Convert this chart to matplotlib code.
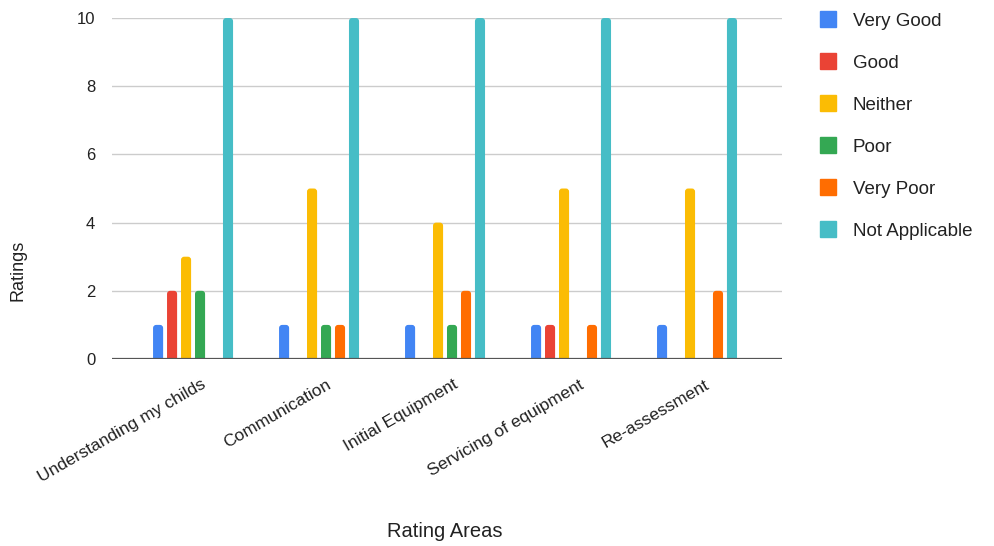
import numpy as np
import matplotlib.pyplot as plt
from matplotlib.patches import FancyBboxPatch
from matplotlib.lines import Line2D

plt.rcParams['font.family'] = ['Liberation Sans', 'DejaVu Sans']

# Ratings per area
areas = ["Understanding my childs", "Communication", "Initial Equipment",
         "Servicing of equipment", "Re-assessment"]
series = ["Very Good", "Good", "Neither", "Poor", "Very Poor", "Not Applicable"]
very_good = [1, 1, 1, 1, 1]
good = [2, 0, 0, 1, 0]
neither = [3, 5, 4, 5, 5]
poor = [2, 1, 1, 0, 0]
very_poor = [0, 1, 2, 1, 2]
not_applicable = [10, 10, 10, 10, 10]
values = [very_good, good, neither, poor, very_poor, not_applicable]
colors = ["#4285F4", "#EA4335", "#FBBC04", "#34A853", "#FF6D01", "#46BDC6"]

fig = plt.figure(figsize=(9.95, 5.46), dpi=100)
ax = fig.add_axes([0.1126, 0.3425, 0.6734, 0.6245])
ax.set_xlim(-0.643, 4.675)
ax.set_ylim(0, 10)

x = np.arange(len(areas))
step = 0.111
width = 0.08
# y data units per x data unit in pixels, for round corners
aspect = (126 / 34.1)
for i, (name, vals, c) in enumerate(zip(series, values, colors)):
    offs = (i - 2.5) * step
    for xi, v in zip(x, vals):
        if v <= 0:
            continue
        p = FancyBboxPatch((xi + offs - width / 2, -0.3), width, v + 0.3,
                           boxstyle="round,pad=0,rounding_size=0.025",
                           mutation_aspect=aspect, facecolor=c,
                           edgecolor="none", zorder=3)
        ax.add_patch(p)

ax.set_yticks(range(0, 11, 2))
ax.yaxis.grid(True, color="#cccccc", linewidth=1, zorder=0)
ax.axhline(0, color="#555555", linewidth=1.6, zorder=4)
for s in ax.spines.values():
    s.set_visible(False)
ax.tick_params(axis="both", length=0, labelsize=12, colors="#222222")
ax.tick_params(axis="y", pad=12)
ax.tick_params(axis="x", pad=13)
ax.set_xticks(x + 0.06)
ax.set_xticklabels(areas, rotation=30, ha="right", rotation_mode="anchor",
                   fontsize=12.5)

fig.text(0.018, 0.505, "Ratings", rotation=90, ha="center", va="center",
         fontsize=13, color="#222222")
fig.text(0.447, 0.027, "Rating Areas", ha="center", va="center",
         fontsize=14.5, color="#222222")

handles = [Line2D([], [], linestyle="none", marker="s", markersize=12,
                  markerfacecolor=c, markeredgecolor=c) for c in colors]
ax.legend(handles, series, loc="upper left", bbox_to_anchor=(1.044, 1.038),
          frameon=False, fontsize=13.5, handlelength=1.0,
          labelspacing=1.33, handletextpad=0.8, borderaxespad=0,
          labelcolor="#222222")

fig.savefig("out.png", dpi=100)
